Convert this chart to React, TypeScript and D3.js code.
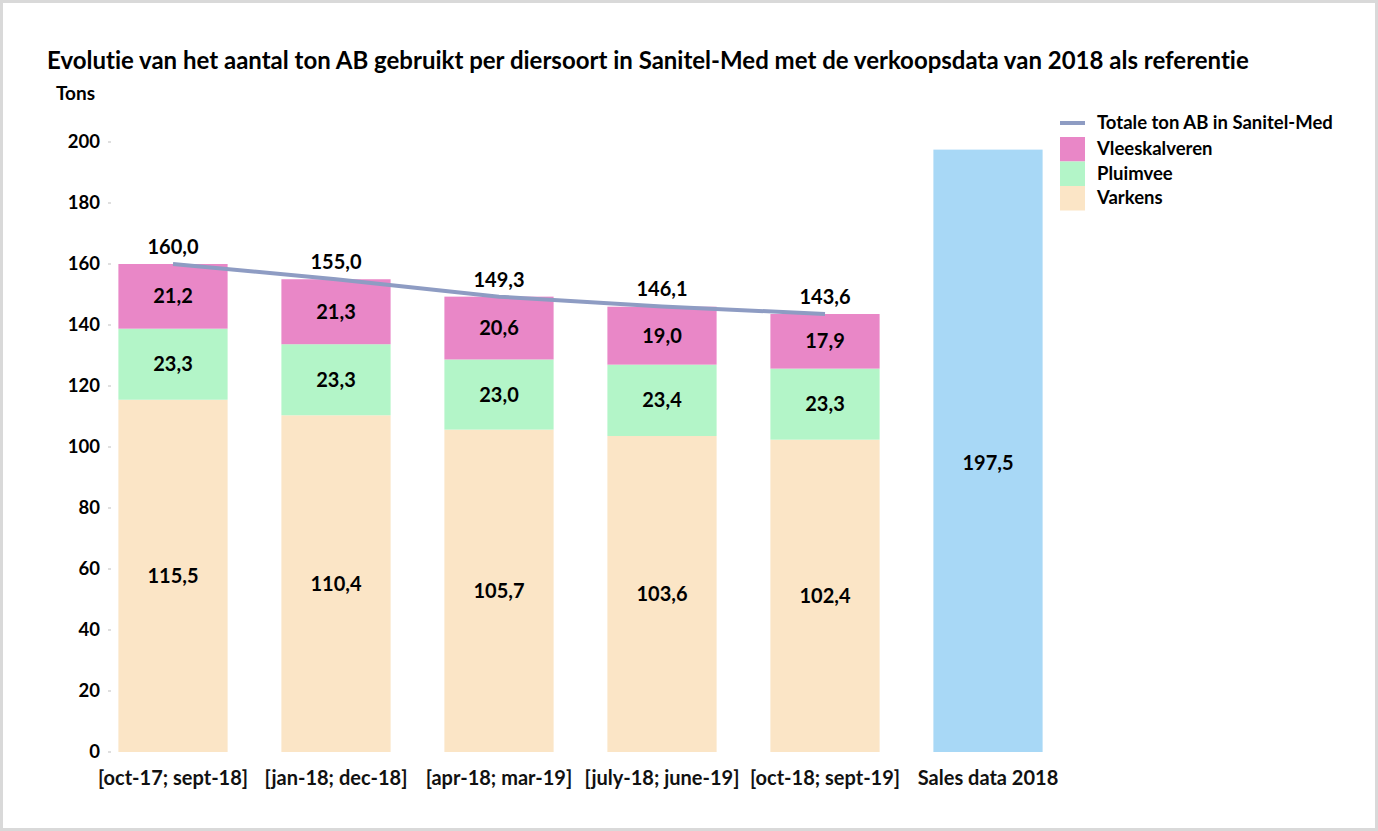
import React from "react";
import * as d3 from "d3";

const categories = ["[oct-17; sept-18]", "[jan-18; dec-18]", "[apr-18; mar-19]", "[july-18; june-19]", "[oct-18; sept-19]", "Sales data 2018"];
const varkens = [115.5, 110.4, 105.7, 103.6, 102.4];
const pluimvee = [23.3, 23.3, 23.0, 23.4, 23.3];
const vleeskalveren = [21.2, 21.3, 20.6, 19.0, 17.9];
const totals = [160.0, 155.0, 149.3, 146.1, 143.6];
const salesData = [197.5];
const yTicks = [0, 20, 40, 60, 80, 100, 120, 140, 160, 180, 200];
const seriesNames = ["Varkens", "Pluimvee", "Vleeskalveren"];
const lineName = "Totale ton AB in Sanitel-Med";
const title = "Evolutie van het aantal ton AB gebruikt per diersoort in Sanitel-Med met de verkoopsdata van 2018 als referentie";

const colors = ["#FBE5C6", "#B3F5C8", "#E987C7"];
const salesColor = "#A8D8F6";
const lineColor = "#8E9CC3";
const FONT = "Lato, 'Open Sans', sans-serif";

const fmt = (v: number) => v.toFixed(1).replace(".", ",");

export default function App() {
  const W = 1378, H = 831;
  const y = d3.scaleLinear().domain([0, 200]).range([752, 142]);
  const x = d3.scaleBand<string>().domain(categories).range([91.5, 1069.5]).paddingInner(0.33).paddingOuter(0.165);
  const bw = x.bandwidth();

  const stackData = categories.slice(0, 5).map((c, i) => ({ cat: c, Varkens: varkens[i], Pluimvee: pluimvee[i], Vleeskalveren: vleeskalveren[i] }));
  const stacked = d3.stack<any>().keys(seriesNames)(stackData);

  const line = d3.line<number>()
    .x((_, i) => (x(categories[i]) as number) + bw / 2)
    .y((d) => y(d));

  const salesCat = categories[5];

  return (
    <svg width={W} height={H} style={{ position: "absolute", left: 0, top: 0, background: "#fff", fontVariantLigatures: "none" }} fontFamily={FONT}>
      <rect x={1.5} y={1.5} width={W - 3} height={H - 3} fill="#fff" stroke="#d9d9d9" strokeWidth={3} />
      <text x={47} y={69} fontSize={24} fontWeight={700} fill="#000">{title}</text>
      <text x={56} y={100} fontSize={19} fontWeight={700} fill="#000">Tons</text>

      {yTicks.map((t) => (
        <g key={t}>
          <text x={100} y={y(t)} dy="0.35em" textAnchor="end" fontSize={18.5} fontWeight={700} fill="#000">{t}</text>
          <line x1={108} x2={111} y1={y(t)} y2={y(t)} stroke="#bfbfbf" />
        </g>
      ))}

      {stacked.map((s, si) => (
        <g key={s.key}>
          {s.map((d: any, i: number) => {
            const x0 = x(d.data.cat) as number;
            return (
              <g key={i}>
                <rect x={x0} y={y(d[1])} width={bw} height={y(d[0]) - y(d[1])} fill={colors[si]} />
                <text x={x0 + bw / 2} y={(y(d[0]) + y(d[1])) / 2} dy="0.35em" textAnchor="middle" fontSize={20} fontWeight={700} fill="#000">{fmt(d[1] - d[0])}</text>
              </g>
            );
          })}
        </g>
      ))}

      <rect x={x(salesCat)} y={y(salesData[0])} width={bw} height={y(0) - y(salesData[0])} fill={salesColor} />
      <text x={(x(salesCat) as number) + bw / 2} y={(y(0) + y(salesData[0])) / 2 + 12} dy="0.35em" textAnchor="middle" fontSize={20} fontWeight={700} fill="#000">{fmt(salesData[0])}</text>

      <path d={line(totals) || ""} fill="none" stroke={lineColor} strokeWidth={4} />
      {totals.map((t, i) => (
        <text key={i} x={(x(categories[i]) as number) + bw / 2} y={y(t) - 10} textAnchor="middle" fontSize={20} fontWeight={700} fill="#000">{fmt(t)}</text>
      ))}

      {categories.map((c) => (
        <text key={c} x={(x(c) as number) + bw / 2} y={785} textAnchor="middle" fontSize={20} fontWeight={700} fill="#111">{c}</text>
      ))}

      <g>
        <line x1={1060} x2={1085} y1={123} y2={123} stroke={lineColor} strokeWidth={4} />
        <text x={1097} y={123} dy="0.35em" fontSize={18.5} fontWeight={700}>{lineName}</text>
        {[...seriesNames].reverse().map((n, i) => {
          const ci = 2 - i;
          const top = 137 + i * 24.5;
          return (
            <g key={n}>
              <rect x={1060} y={top} width={25} height={24.5} fill={colors[ci]} />
              <text x={1097} y={top + 12} dy="0.35em" fontSize={18.5} fontWeight={700}>{n}</text>
            </g>
          );
        })}
      </g>
    </svg>
  );
}
